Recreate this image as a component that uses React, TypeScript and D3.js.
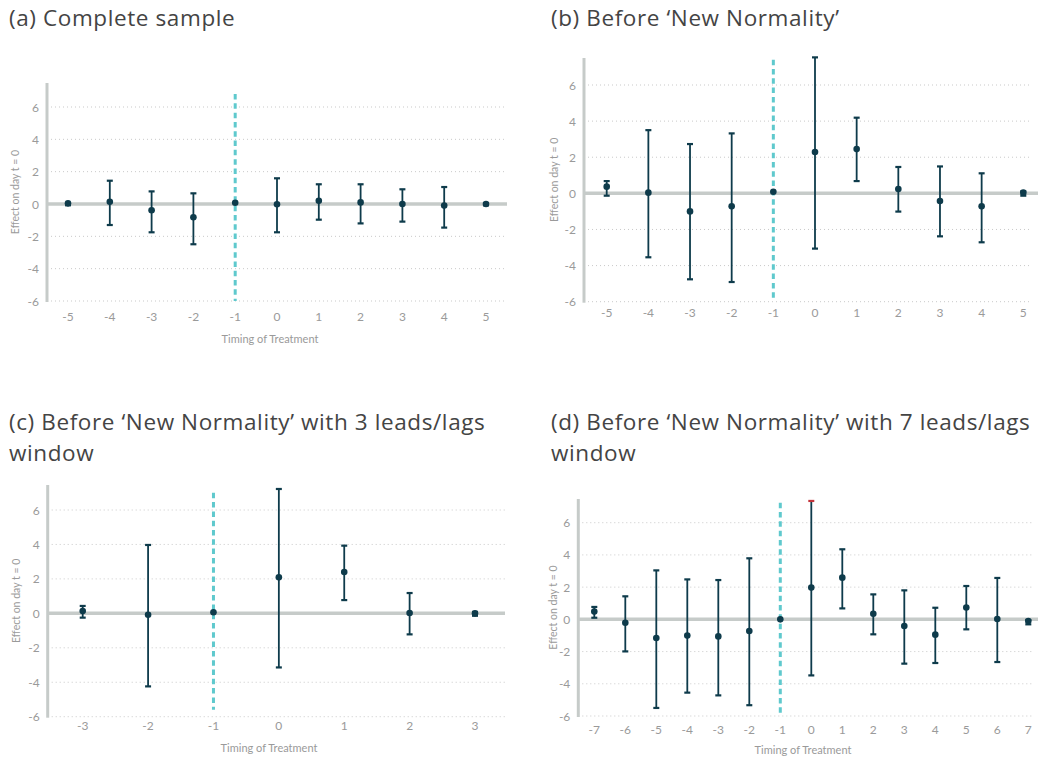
import React from 'react';
import * as d3 from 'd3';

// (a) complete sample
const aTiming = [-5, -4, -3, -2, -1, 0, 1, 2, 3, 4, 5];
const aEst = [0.04, 0.14, -0.39, -0.82, 0.08, -0.02, 0.2, 0.1, 0.0, -0.1, 0.0];
const aLow = [-0.08, -1.3, -1.75, -2.49, null, -1.75, -0.97, -1.2, -1.09, -1.46, -0.08];
const aHigh = [0.06, 1.44, 0.78, 0.66, null, 1.59, 1.22, 1.22, 0.91, 1.05, 0.05];

// (b) before 'New Normality'
const bTiming = [-5, -4, -3, -2, -1, 0, 1, 2, 3, 4, 5];
const bEst = [0.37, 0.04, -1.0, -0.72, 0.09, 2.29, 2.45, 0.24, -0.42, -0.72, 0.04];
const bLow = [-0.13, -3.54, -4.76, -4.91, null, -3.06, 0.68, -1.01, -2.38, -2.71, -0.13];
const bHigh = [0.68, 3.5, 2.73, 3.32, null, 7.53, 4.19, 1.46, 1.49, 1.11, 0.11];

// (c) 3 leads/lags window
const cTiming = [-3, -2, -1, 0, 1, 2, 3];
const cEst = [0.14, -0.08, 0.06, 2.09, 2.4, 0.02, 0.0];
const cLow = [-0.25, -4.24, null, -3.14, 0.77, -1.22, -0.14];
const cHigh = [0.43, 3.97, null, 7.22, 3.93, 1.18, 0.08];

// (d) 7 leads/lags window
const dTiming = [-7, -6, -5, -4, -3, -2, -1, 0, 1, 2, 3, 4, 5, 6, 7];
const dEst = [0.48, -0.21, -1.16, -1.01, -1.06, -0.72, 0.0, 1.97, 2.59, 0.35, -0.41, -0.95, 0.74, 0.02, -0.1];
const dLow = [0.1, -1.99, -5.5, -4.55, -4.72, -5.33, null, -3.48, 0.68, -0.93, -2.75, -2.71, -0.62, -2.65, -0.31];
const dHigh = [0.77, 1.43, 3.04, 2.48, 2.44, 3.79, null, 7.35, 4.35, 1.55, 1.8, 0.72, 2.07, 2.57, -0.04];
const dRedCap = [0]; // timing whose upper cap is drawn red

const yTicks = [-6, -4, -2, 0, 2, 4, 6];
const yTitle = 'Effect on day t = 0';
const xTitle = 'Timing of Treatment';

const FONT = 'Lato, "Open Sans", sans-serif';
const TITLE_FONT = '"Open Sans", sans-serif';
const DARK = '#0e3b4b';
const GREY_TXT = '#9a9a9a';
const AXIS = '#c6cbc9';

const Panel = ({ title, timing, est, low, high, red = [], g }) => {
  const x = d3.scaleLinear().domain([timing[0], timing[timing.length - 1]]).range([g.x0, g.x1]);
  const y = d3.scaleLinear().domain([-6, 6]).range([g.yBot, g.yTop]);
  return (
    <g>
      {title.map((t, i) => (
        <text key={i} x={g.titleX} y={g.titleY + i * 31} fontSize={22.5} letterSpacing={0.6} fill="#444" fontFamily={TITLE_FONT}>{t}</text>
      ))}
      {yTicks.filter(t => t !== 0).map(t => (
        <line key={t} x1={g.axisX + 4} x2={g.right} y1={y(t)} y2={y(t)} stroke="#c9c9c9" strokeWidth={1} strokeDasharray="1,3" />
      ))}
      <line x1={g.axisX} x2={g.zeroRight} y1={y(0)} y2={y(0)} stroke={AXIS} strokeWidth={3.5} />
      <line x1={g.axisX} x2={g.axisX} y1={g.axisTop} y2={y(-6) + 1} stroke={AXIS} strokeWidth={3} />
      {yTicks.map(t => (
        <text key={t} x={g.axisX - 8} y={y(t)} textAnchor="end" dominantBaseline="central" fontSize={12} fill={GREY_TXT} fontFamily={FONT}>{t}</text>
      ))}
      <text transform={`translate(${g.yLabX},${(y(-6) + g.axisTop) / 2}) rotate(-90)`} textAnchor="middle" dominantBaseline="central" fontSize={10.5} fill={GREY_TXT} fontFamily={FONT}>{yTitle}</text>
      {timing.map(t => (
        <text key={t} x={x(t)} y={g.tickY} textAnchor="middle" dominantBaseline="central" fontSize={12} fill={GREY_TXT} fontFamily={FONT}>{t}</text>
      ))}
      {g.xTitleY && (
        <text x={g.xTitleX} y={g.xTitleY} textAnchor="middle" dominantBaseline="central" fontSize={11} fill={GREY_TXT} fontFamily={FONT}>{xTitle}</text>
      )}
      <line x1={x(-1)} x2={x(-1)} y1={y(g.dashTop)} y2={y(g.dashBot)} stroke="#5fc9cd" strokeWidth={3} strokeDasharray="5.5,3.8" />
      {timing.map((t, i) => (
        <g key={t}>
          {low[i] != null && (
            <g>
              <line x1={x(t)} x2={x(t)} y1={y(low[i])} y2={y(high[i])} stroke={DARK} strokeWidth={1.8} />
              <line x1={x(t) - 3} x2={x(t) + 3} y1={y(low[i])} y2={y(low[i])} stroke={DARK} strokeWidth={2.2} />
              <line x1={x(t) - 3} x2={x(t) + 3} y1={y(high[i])} y2={y(high[i])} stroke={red.includes(t) ? '#c4343b' : DARK} strokeWidth={2.2} />
            </g>
          )}
          <circle cx={x(t)} cy={y(est[i])} r={3.3} fill={DARK} />
        </g>
      ))}
    </g>
  );
};

export default function App() {
  return (
    <svg width={1038} height={757} style={{ position: 'absolute', left: 0, top: 0, background: '#fff' }}>
      <Panel title={['(a) Complete sample']} timing={aTiming} est={aEst} low={aLow} high={aHigh}
        g={{ titleX: 9, titleY: 26, axisX: 47, axisTop: 83, yTop: 107, yBot: 301, x0: 68, x1: 486, right: 507, zeroRight: 507, tickY: 316, xTitleX: 270, xTitleY: 338, yLabX: 15, dashTop: 6.8, dashBot: -6 }} />
      <Panel title={['(b) Before \u2018New Normality\u2019']} timing={bTiming} est={bEst} low={bLow} high={bHigh}
        g={{ titleX: 551, titleY: 26, axisX: 584, axisTop: 58, yTop: 85, yBot: 301.7, x0: 606.7, x1: 1023.3, right: 1032, zeroRight: 1038, tickY: 312, yLabX: 554, dashTop: 7.4, dashBot: -5.8 }} />
      <Panel title={['(c) Before \u2018New Normality\u2019 with 3 leads/lags', 'window']} timing={cTiming} est={cEst} low={cLow} high={cHigh}
        g={{ titleX: 9, titleY: 430, axisX: 47.7, axisTop: 485, yTop: 510, yBot: 716.7, x0: 82.7, x1: 475, right: 507, zeroRight: 505, tickY: 725, xTitleX: 269, xTitleY: 747, yLabX: 16, dashTop: 7.0, dashBot: -5.6 }} />
      <Panel title={['(d) Before \u2018New Normality\u2019 with 7 leads/lags', 'window']} timing={dTiming} est={dEst} low={dLow} high={dHigh} red={dRedCap}
        g={{ titleX: 551, titleY: 430, axisX: 578.3, axisTop: 499, yTop: 522.7, yBot: 716, x0: 594.3, x1: 1028.3, right: 1032, zeroRight: 1038, tickY: 729, xTitleX: 803, xTitleY: 749, yLabX: 553, dashTop: 7.24, dashBot: -5.8 }} />
    </svg>
  );
}
